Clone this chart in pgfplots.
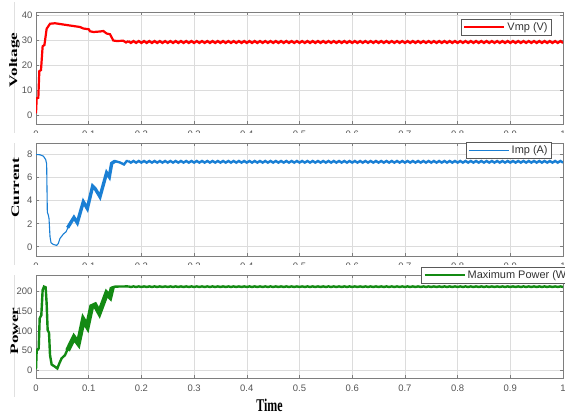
\documentclass[border=0pt]{standalone}
\usepackage{pgfplots}
\pgfplotsset{compat=1.18}
\usepackage{pgfplotstable}
\usepackage{fontspec}
\usepackage{graphicx}
\setmainfont{Liberation Serif}
\setsansfont{Liberation Sans}

\definecolor{gridc}{HTML}{DCDCDC}
\definecolor{axc}{HTML}{7E7E7E}
\definecolor{tickc}{HTML}{555555}
\definecolor{vred}{HTML}{FF0000}
\definecolor{iblue}{HTML}{1A7FD4}
\definecolor{pgreen}{HTML}{138A13}

\pgfplotstableread{
t v i p
0.175 29.55 7.44 213.5
0.180 28.85 7.30 212
0.185 29.55 7.44 213.5
0.190 28.85 7.30 212
0.195 29.55 7.44 213.5
0.200 28.85 7.30 212
0.205 29.55 7.44 213.5
0.210 28.85 7.30 212
0.215 29.55 7.44 213.5
0.220 28.85 7.30 212
0.225 29.55 7.44 213.5
0.230 28.85 7.30 212
0.235 29.55 7.44 213.5
0.240 28.85 7.30 212
0.245 29.55 7.44 213.5
0.250 28.85 7.30 212
0.255 29.55 7.44 213.5
0.260 28.85 7.30 212
0.265 29.55 7.44 213.5
0.270 28.85 7.30 212
0.275 29.55 7.44 213.5
0.280 28.85 7.30 212
0.285 29.55 7.44 213.5
0.290 28.85 7.30 212
0.295 29.55 7.44 213.5
0.300 28.85 7.30 212
0.305 29.55 7.44 213.5
0.310 28.85 7.30 212
0.315 29.55 7.44 213.5
0.320 28.85 7.30 212
0.325 29.55 7.44 213.5
0.330 28.85 7.30 212
0.335 29.55 7.44 213.5
0.340 28.85 7.30 212
0.345 29.55 7.44 213.5
0.350 28.85 7.30 212
0.355 29.55 7.44 213.5
0.360 28.85 7.30 212
0.365 29.55 7.44 213.5
0.370 28.85 7.30 212
0.375 29.55 7.44 213.5
0.380 28.85 7.30 212
0.385 29.55 7.44 213.5
0.390 28.85 7.30 212
0.395 29.55 7.44 213.5
0.400 28.85 7.30 212
0.405 29.55 7.44 213.5
0.410 28.85 7.30 212
0.415 29.55 7.44 213.5
0.420 28.85 7.30 212
0.425 29.55 7.44 213.5
0.430 28.85 7.30 212
0.435 29.55 7.44 213.5
0.440 28.85 7.30 212
0.445 29.55 7.44 213.5
0.450 28.85 7.30 212
0.455 29.55 7.44 213.5
0.460 28.85 7.30 212
0.465 29.55 7.44 213.5
0.470 28.85 7.30 212
0.475 29.55 7.44 213.5
0.480 28.85 7.30 212
0.485 29.55 7.44 213.5
0.490 28.85 7.30 212
0.495 29.55 7.44 213.5
0.500 28.85 7.30 212
0.505 29.55 7.44 213.5
0.510 28.85 7.30 212
0.515 29.55 7.44 213.5
0.520 28.85 7.30 212
0.525 29.55 7.44 213.5
0.530 28.85 7.30 212
0.535 29.55 7.44 213.5
0.540 28.85 7.30 212
0.545 29.55 7.44 213.5
0.550 28.85 7.30 212
0.555 29.55 7.44 213.5
0.560 28.85 7.30 212
0.565 29.55 7.44 213.5
0.570 28.85 7.30 212
0.575 29.55 7.44 213.5
0.580 28.85 7.30 212
0.585 29.55 7.44 213.5
0.590 28.85 7.30 212
0.595 29.55 7.44 213.5
0.600 28.85 7.30 212
0.605 29.55 7.44 213.5
0.610 28.85 7.30 212
0.615 29.55 7.44 213.5
0.620 28.85 7.30 212
0.625 29.55 7.44 213.5
0.630 28.85 7.30 212
0.635 29.55 7.44 213.5
0.640 28.85 7.30 212
0.645 29.55 7.44 213.5
0.650 28.85 7.30 212
0.655 29.55 7.44 213.5
0.660 28.85 7.30 212
0.665 29.55 7.44 213.5
0.670 28.85 7.30 212
0.675 29.55 7.44 213.5
0.680 28.85 7.30 212
0.685 29.55 7.44 213.5
0.690 28.85 7.30 212
0.695 29.55 7.44 213.5
0.700 28.85 7.30 212
0.705 29.55 7.44 213.5
0.710 28.85 7.30 212
0.715 29.55 7.44 213.5
0.720 28.85 7.30 212
0.725 29.55 7.44 213.5
0.730 28.85 7.30 212
0.735 29.55 7.44 213.5
0.740 28.85 7.30 212
0.745 29.55 7.44 213.5
0.750 28.85 7.30 212
0.755 29.55 7.44 213.5
0.760 28.85 7.30 212
0.765 29.55 7.44 213.5
0.770 28.85 7.30 212
0.775 29.55 7.44 213.5
0.780 28.85 7.30 212
0.785 29.55 7.44 213.5
0.790 28.85 7.30 212
0.795 29.55 7.44 213.5
0.800 28.85 7.30 212
0.805 29.55 7.44 213.5
0.810 28.85 7.30 212
0.815 29.55 7.44 213.5
0.820 28.85 7.30 212
0.825 29.55 7.44 213.5
0.830 28.85 7.30 212
0.835 29.55 7.44 213.5
0.840 28.85 7.30 212
0.845 29.55 7.44 213.5
0.850 28.85 7.30 212
0.855 29.55 7.44 213.5
0.860 28.85 7.30 212
0.865 29.55 7.44 213.5
0.870 28.85 7.30 212
0.875 29.55 7.44 213.5
0.880 28.85 7.30 212
0.885 29.55 7.44 213.5
0.890 28.85 7.30 212
0.895 29.55 7.44 213.5
0.900 28.85 7.30 212
0.905 29.55 7.44 213.5
0.910 28.85 7.30 212
0.915 29.55 7.44 213.5
0.920 28.85 7.30 212
0.925 29.55 7.44 213.5
0.930 28.85 7.30 212
0.935 29.55 7.44 213.5
0.940 28.85 7.30 212
0.945 29.55 7.44 213.5
0.950 28.85 7.30 212
0.955 29.55 7.44 213.5
0.960 28.85 7.30 212
0.965 29.55 7.44 213.5
0.970 28.85 7.30 212
0.975 29.55 7.44 213.5
0.980 28.85 7.30 212
0.985 29.55 7.44 213.5
0.990 28.85 7.30 212
0.995 29.55 7.44 213.5
1.000 28.85 7.30 212
}\steady

\pgfplotsset{
  mystyle/.style={
    scale only axis, width=527bp,
    xmin=0, xmax=1,
    xtick={0,0.1,0.2,0.3,0.4,0.5,0.6,0.7,0.8,0.9,1},
    grid=major,
    major grid style={gridc, line width=0.6bp},
    axis line style={axc, line width=0.8bp},
    tick style={axc, line width=0.6bp},
    major tick length=3bp,
    /pgf/number format/assume math mode=true,
    ticklabel style={font=\sffamily\fontsize{9.5}{10}\selectfont, text=tickc},
    xticklabel style={yshift=-3bp},
    legend cell align=left,
    legend image code/.code={\draw[##1] (0bp,0bp) -- (40bp,0bp);},
    legend style={draw=black!65, line width=0.6bp, fill=white,
      font=\sffamily\fontsize{11}{12}\selectfont, text=black!80,
      inner xsep=2bp, inner ysep=1.2bp},
  }
}

\begin{document}
\begin{tikzpicture}
\path[use as bounding box] (0,0) rectangle (565bp,-414bp);
\fill[white] (0,0) rectangle (565bp,-414bp);
\draw[black!12, line width=0.8bp] (14bp,-2bp) -- (14bp,-397bp);

% ---------- Voltage ----------
\begin{axis}[mystyle, height=112bp, at={(36bp,-124bp)}, anchor=south west,
  ymin=-3.6, ymax=41.2, ytick={0,10,20,30,40},
  legend style={at={(0.979,0.9375)}, anchor=north east}]
\addplot[vred, line width=2.2bp] coordinates {
(0,0.7)(0.0013,6.7)(0.0044,6.9)(0.0063,17.5)(0.0095,18)(0.0126,27.5)(0.016,28)
(0.0202,34.5)(0.0266,36.5)(0.036,36.7)(0.058,36)(0.0835,35.2)(0.0898,34.6)
(0.1,34.3)(0.1025,33.5)(0.109,33.2)(0.1214,33.4)(0.1278,33.6)(0.134,32.6)
(0.1404,32.3)(0.1467,29.8)(0.153,29.6)(0.1657,29.7)(0.1708,29.0)(0.175,29.55)};
\addlegendentry{Vmp (V)}
\addplot[vred, line width=2.4bp, forget plot] table[x=t, y=v] {\steady};
\end{axis}
\fill[white] (0,-133bp) rectangle (565bp,-142.5bp);

% ---------- Current ----------
\begin{axis}[mystyle, height=113bp, at={(36bp,-256bp)}, anchor=south west,
  ymin=-0.8, ymax=9.0, ytick={0,2,4,6,8},
  legend style={at={(0.979,1.009)}, anchor=north east}]
\addplot[iblue, line width=1.1bp] coordinates {
(0,8.0)(0.0076,7.98)(0.014,7.86)(0.0183,7.57)(0.0202,7.2)(0.0215,3.0)
(0.0234,2.75)(0.0247,2.45)(0.0266,0.87)(0.0285,0.35)(0.033,0.2)(0.0392,0.12)
(0.0424,0.29)(0.0455,0.72)(0.0519,1.1)(0.057,1.3)(0.0614,1.73)(0.072,2.54)
(0.0784,2.08)(0.0898,3.9)(0.0974,3.32)(0.1075,5.26)(0.112,5.06)(0.1214,4.34)
(0.134,6.42)(0.1391,6.07)(0.1436,7.23)(0.15,7.43)(0.1594,7.31)(0.167,7.14)
(0.172,7.43)(0.175,7.44)};
\addlegendentry{Imp (A)}
\addplot[iblue, line width=3.4bp, forget plot] coordinates {
(0.06,1.65)(0.072,2.54)(0.0784,2.08)(0.0898,3.9)(0.0974,3.32)(0.1075,5.26)
(0.112,5.06)(0.1214,4.34)(0.134,6.42)(0.1391,6.07)(0.1436,7.23)(0.15,7.43)};
\addplot[iblue, line width=2.4bp, forget plot] table[x=t, y=i] {\steady};
\addplot[iblue, line width=2.4bp, forget plot] coordinates {
(0.1436,7.23)(0.15,7.43)(0.1594,7.31)(0.167,7.14)(0.172,7.43)(0.175,7.44)};
\end{axis}
\fill[white] (0,-265bp) rectangle (565bp,-274.5bp);

% ---------- Power ----------
\begin{axis}[mystyle, height=103bp, at={(36bp,-378bp)}, anchor=south west,
  ymin=-20.4, ymax=242.6, ytick={0,50,100,150,200},
  legend style={at={(0.7306,1.078)}, anchor=north west}]
\addplot[pgreen, line width=2.4bp] coordinates {
(0,2)(0.0013,51)(0.0051,55)(0.007,132)(0.0101,140)(0.0126,204)(0.0152,213)
(0.0183,211)(0.0202,170)(0.0221,102)(0.0247,95)(0.0266,38)(0.0297,14)
(0.036,8.5)(0.0405,4)(0.0443,17)(0.0487,30)(0.055,38)(0.058,47)(0.072,83)
(0.0803,68)(0.0898,128)(0.0974,111)(0.1056,162)(0.112,166)(0.1202,146)
(0.134,196)(0.1404,187)(0.1448,211)(0.15,213)(0.175,213.5)};
\addlegendentry{Maximum Power (W)}
\addplot[pgreen, line width=5bp, forget plot] coordinates {
(0.06,50)(0.072,83)(0.0803,68)(0.0898,128)(0.0974,111)(0.1056,162)(0.112,166)
(0.1202,146)(0.134,196)(0.1404,187)(0.1448,211)};
\addplot[pgreen, line width=2.4bp, forget plot] table[x=t, y=p] {\steady};
\end{axis}

% ---------- labels ----------
\node[rotate=90, font=\bfseries\fontsize{11.5}{13}\selectfont, inner sep=0pt]
  at (14.5bp,-60bp) {\scalebox{1.5}[1]{Voltage}};
\node[rotate=90, font=\bfseries\fontsize{11.5}{13}\selectfont, inner sep=0pt]
  at (15.5bp,-188bp) {\scalebox{1.5}[1]{Current}};
\node[rotate=90, font=\bfseries\fontsize{11.5}{13}\selectfont, inner sep=0pt]
  at (14.5bp,-331bp) {\scalebox{1.5}[1]{Power}};
\node[font=\bfseries\fontsize{12}{14}\selectfont, inner sep=0pt]
  at (269.5bp,-405bp) {\scalebox{1}[1.5]{Time}};
\end{tikzpicture}
\end{document}
